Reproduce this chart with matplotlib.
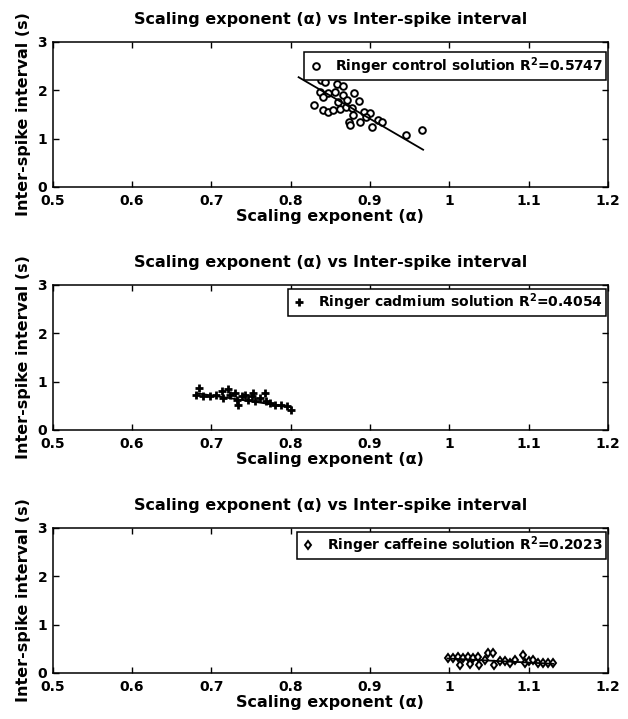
import numpy as np
import matplotlib
matplotlib.use("Agg")
import matplotlib.pyplot as plt

plt.rcParams['font.family'] = ['DejaVu Sans']
plt.rcParams['font.weight'] = 'bold'
plt.rcParams['mathtext.fontset'] = 'custom'
plt.rcParams['mathtext.rm'] = 'DejaVu Sans:bold'

# Ringer control solution
ctrl_x = [0.838, 0.858, 0.843, 0.866, 0.837, 0.847, 0.856, 0.866, 0.841, 0.830,
          0.841, 0.847, 0.853, 0.862, 0.870, 0.877, 0.886, 0.879, 0.874, 0.875,
          0.887, 0.893, 0.900, 0.902, 0.910, 0.946, 0.965, 0.880, 0.860, 0.895,
          0.915, 0.871]
ctrl_y = [2.22, 2.12, 2.18, 2.09, 1.97, 1.94, 1.97, 1.90, 1.87, 1.70,
          1.59, 1.56, 1.59, 1.61, 1.66, 1.63, 1.77, 1.49, 1.35, 1.28,
          1.35, 1.56, 1.52, 1.25, 1.39, 1.08, 1.18, 1.95, 1.75, 1.45,
          1.35, 1.80]
ctrl_fit_x = [0.81, 0.967]
ctrl_fit_y = [2.27, 0.77]

# Ringer cadmium solution
cad_x = [0.685, 0.681, 0.690, 0.698, 0.706, 0.713, 0.715, 0.721, 0.723, 0.730,
         0.732, 0.734, 0.738, 0.742, 0.746, 0.751, 0.753, 0.755, 0.761, 0.767,
         0.769, 0.774, 0.780, 0.788, 0.795, 0.801]
cad_y = [0.87, 0.73, 0.70, 0.70, 0.73, 0.80, 0.66, 0.84, 0.73, 0.77,
         0.63, 0.52, 0.70, 0.73, 0.63, 0.70, 0.77, 0.59, 0.66, 0.77,
         0.59, 0.56, 0.52, 0.52, 0.49, 0.42]
cad_fit_x = [0.681, 0.801]
cad_fit_y = [0.76, 0.47]

# Ringer caffeine solution
caf_x = [0.998, 1.005, 1.011, 1.017, 1.024, 1.030, 1.036, 1.049, 1.055, 1.013,
         1.026, 1.038, 1.045, 1.057, 1.064, 1.070, 1.076, 1.083, 1.093, 1.095,
         1.101, 1.106, 1.112, 1.118, 1.125, 1.131]
caf_y = [0.31, 0.31, 0.33, 0.31, 0.34, 0.31, 0.34, 0.41, 0.41, 0.17,
         0.19, 0.17, 0.27, 0.17, 0.24, 0.24, 0.20, 0.27, 0.37, 0.20,
         0.24, 0.27, 0.20, 0.20, 0.20, 0.20]
caf_fit_x = [0.998, 1.131]
caf_fit_y = [0.30, 0.19]

labels = ['Ringer control solution R$^{2}$=0.5747',
          'Ringer cadmium solution R$^{2}$=0.4054',
          'Ringer caffeine solution R$^{2}$=0.2023']
markers = ['o', '+', 'd']
x_ticks = [0.5, 0.6, 0.7, 0.8, 0.9, 1.0, 1.1, 1.2]
x_tick_labels = ['0.5', '0.6', '0.7', '0.8', '0.9', '1', '1.1', '1.2']
y_ticks = [0, 1, 2, 3]

series = [(ctrl_x, ctrl_y, ctrl_fit_x, ctrl_fit_y),
          (cad_x, cad_y, cad_fit_x, cad_fit_y),
          (caf_x, caf_y, caf_fit_x, caf_fit_y)]

fig = plt.figure(figsize=(6.28, 7.19), dpi=100)
bottoms = [0.740, 0.402, 0.064]
legend_tops = [0.93, 0.975, 0.975]
for i, (xs, ys, fx, fy) in enumerate(series):
    ax = fig.add_axes([0.084, bottoms[i], 0.884, 0.2017])
    if markers[i] == '+':
        ax.plot(xs, ys, '+', color='black', markersize=5.5, markeredgewidth=2,
                label=labels[i])
    else:
        ax.plot(xs, ys, markers[i], color='black', markerfacecolor='white',
                markersize=4.8 if markers[i] == 'o' else 4.5, markeredgewidth=1.4,
                label=labels[i])
    ax.plot(fx, fy, '-', color='black', linewidth=1.3)

    ax.set_xlim(0.5, 1.2)
    ax.set_ylim(0, 3)
    ax.set_xticks(x_ticks)
    ax.set_xticklabels(x_tick_labels)
    ax.set_yticks(y_ticks)
    ax.tick_params(direction='in', top=True, right=True, length=4, width=1,
                   labelsize=10)
    ax.tick_params(axis='x', pad=5)
    ax.tick_params(axis='y', pad=4)
    for lab in ax.get_xticklabels() + ax.get_yticklabels():
        lab.set_fontweight('bold')
    for sp in ax.spines.values():
        sp.set_linewidth(1.1)

    ax.set_title('Scaling exponent (\u03b1) vs Inter-spike interval',
                 fontsize=11.5, fontweight='bold', pad=13)
    ax.set_xlabel('Scaling exponent (\u03b1)', fontsize=11.5, fontweight='bold',
                  labelpad=1)
    ax.set_ylabel('Inter-spike interval (s)', fontsize=11.5, fontweight='bold',
                  labelpad=5)

    leg = ax.legend(loc='upper right', bbox_to_anchor=(0.997, legend_tops[i]),
                    fancybox=False, framealpha=1, edgecolor='black',
                    handlelength=1.2, handletextpad=0.8, borderaxespad=0,
                    borderpad=0.22, prop={'weight': 'bold', 'size': 10})
    leg.get_frame().set_linewidth(1.1)

fig.savefig('out.png', dpi=100)
